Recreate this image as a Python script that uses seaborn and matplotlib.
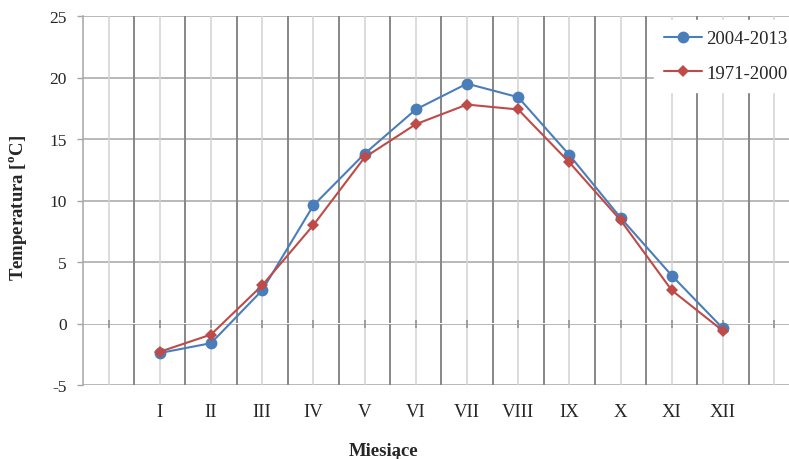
import matplotlib
matplotlib.use("Agg")
import matplotlib.pyplot as plt
import seaborn as sns
import pandas as pd

# Monthly mean temperature, two reference periods
months = ["I", "II", "III", "IV", "V", "VI", "VII", "VIII", "IX", "X", "XI", "XII"]
t_2004_2013 = [-2.4, -1.6, 2.7, 9.6, 13.8, 17.4, 19.5, 18.4, 13.7, 8.6, 3.9, -0.4]
t_1971_2000 = [-2.3, -0.9, 3.1, 8.0, 13.5, 16.2, 17.8, 17.4, 13.1, 8.4, 2.7, -0.6]
series_names = ["2004-2013", "1971-2000"]
y_ticks = [-5, 0, 5, 10, 15, 20, 25]

sns.set_theme(style="white")
plt.rcParams["font.family"] = ["Liberation Serif", "DejaVu Serif"]
plt.rcParams["mathtext.fontset"] = "custom"
plt.rcParams["mathtext.rm"] = "Liberation Serif"
plt.rcParams["mathtext.bf"] = "Liberation Serif:bold"

W, H = 789, 460
fig = plt.figure(figsize=(W / 100, H / 100), dpi=100)
left, right, top, bottom = 83, 789, 17, 386
ax = fig.add_axes([left / W, 1 - bottom / H, (right - left) / W, (bottom - top) / H])

# month positions 1..12 with an empty slot on each side
pos = list(range(1, len(months) + 1))
slots = list(range(0, len(months) + 2))
slot_labels = [""] + months + [""]

df = pd.DataFrame({"pos": pos, series_names[0]: t_2004_2013, series_names[1]: t_1971_2000})

blue = "#4a7ebb"
red = "#be4b48"
grid_h = "#a6a6a6"
grid_major = "#878787"
grid_minor = "#d2d2d2"

# grid
for y in y_ticks:
    ax.axhline(y, color=grid_h, lw=1.1, zorder=0)
for s in slots:
    ax.axvline(s, color=grid_minor, lw=1.1, zorder=0)
for b in [s + 0.5 for s in slots[:-1]]:
    ax.axvline(b, color=grid_major, lw=1.4, zorder=0)

sns.lineplot(data=df, x="pos", y=series_names[0], ax=ax, color=blue, lw=1.5,
             marker="o", markersize=8.5, markeredgewidth=0, label=series_names[0], zorder=3)
sns.lineplot(data=df, x="pos", y=series_names[1], ax=ax, color=red, lw=1.5,
             marker="D", markersize=6.2, markeredgewidth=0, label=series_names[1], zorder=4)

ax.set_xlim(-0.5, (right - 108.8) / 51.18)
ax.set_ylim(-5, 25)
ax.set_yticks(y_ticks)
ax.set_yticklabels([str(v) for v in y_ticks], fontsize=12.5)
ax.set_xticks(slots)
ax.set_xticklabels(slot_labels, fontsize=13.5)
ax.tick_params(axis="x", length=0, pad=13)
ax.tick_params(axis="y", length=4.3, width=1.0, color=grid_h, direction="out", pad=7.5)
ax.yaxis.set_ticks_position("left")

for side in ["top", "right", "bottom"]:
    ax.spines[side].set_visible(False)
ax.spines["left"].set_color(grid_h)
ax.spines["left"].set_linewidth(1.1)

# small category ticks along the zero line
zero_axis = ax.secondary_xaxis(5 / 30)
zero_axis.set_xticks(slots)
zero_axis.set_xticklabels([])
zero_axis.tick_params(length=6, direction="inout", color="#8c8c8c", width=1.1)
zero_axis.spines["bottom"].set_visible(False)
zero_axis.spines["top"].set_visible(False)

ax.set_xlabel("Miesiące", fontsize=13.5, fontweight="bold")
ax.xaxis.set_label_coords((384 - left) / (right - left), (bottom - 443) / (bottom - top))
ax.set_ylabel(r"Temperatura [$^{\mathbf{o}}$C]", fontsize=13.5, fontweight="bold")
ax.yaxis.set_label_coords((29 - left) / (right - left), (bottom - 208) / (bottom - top))

leg = ax.legend(loc="upper right", bbox_to_anchor=(1.0 + 9 / W, 1 - 21 / H), bbox_transform=fig.transFigure,
                frameon=True, fontsize=13.5, handlelength=2.0, handletextpad=0.25,
                labelspacing=0.92, borderaxespad=0, borderpad=0.55, fancybox=False)
leg.get_frame().set_facecolor("white")
leg.get_frame().set_edgecolor("white")
leg.get_frame().set_alpha(1)
leg.set_zorder(10)

fig.savefig("out.png", dpi=100)
